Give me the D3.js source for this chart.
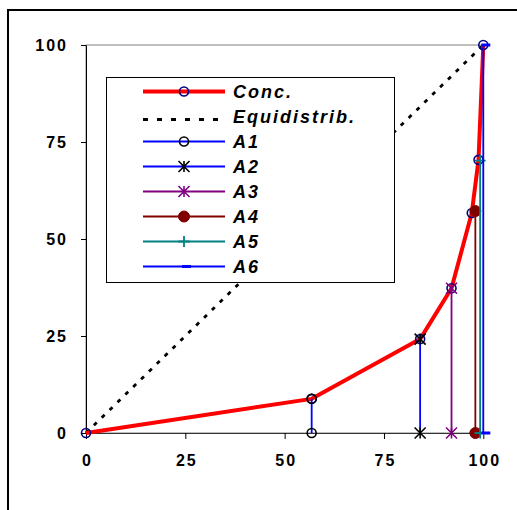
<!DOCTYPE html>
<html>
<head>
<meta charset="utf-8">
<script src="https://cdn.jsdelivr.net/npm/d3@7"></script>
<style>
  html, body { margin: 0; padding: 0; background: #fff; }
  svg { display: block; }
  text { font-family: "Liberation Sans", Arial, sans-serif; }
</style>
</head>
<body>
<svg id="chart" width="517" height="510"></svg>
<script>
// Concentration curve (cumulative shares, %)
const concX = [0, 56.8, 84.1, 92.0, 97.1, 98.8, 100];
const concY = [0, 8.8, 24.2, 37.3, 56.7, 70.4, 100];

// Line of equal distribution
const equiX = [0, 100];
const equiY = [0, 100];

// Individual units: each drawn as a drop line from the axis to its cumulative point
const unitNames = ["A1", "A2", "A3", "A4", "A5", "A6"];
const unitX = [56.8, 84.1, 92.0, 98.0, 99.2, 100];
const unitY = [8.8, 24.2, 37.3, 57.2, 70.2, 100];

const xTicks = [0, 25, 50, 75, 100];
const yTicks = [0, 25, 50, 75, 100];

const unitStyle = {
  A1: { line: "#0000ff", marker: "circle", mcolor: "#000000" },
  A2: { line: "#0000ff", marker: "star", mcolor: "#000000" },
  A3: { line: "#800080", marker: "star", mcolor: "#800080" },
  A4: { line: "#800000", marker: "dot", mcolor: "#800000" },
  A5: { line: "#008080", marker: "plus", mcolor: "#008080" },
  A6: { line: "#0000ff", marker: "dash", mcolor: "#0000ff" }
};

const svg = d3.select("#chart");

// Outer chart frame
svg.append("rect")
  .attr("x", 8).attr("y", 10)
  .attr("width", 530).attr("height", 530)
  .attr("fill", "none").attr("stroke", "#000").attr("stroke-width", 2);

const x = d3.scaleLinear().domain([0, 100]).range([86, 483.3]);
const y = d3.scaleLinear().domain([0, 100]).range([433, 45]);

// Plot area border
svg.append("rect")
  .attr("x", x(0)).attr("y", y(100))
  .attr("width", x(100) - x(0)).attr("height", y(0) - y(100))
  .attr("fill", "none").attr("stroke", "#808080").attr("stroke-width", 1);

// Axes
const yAxis = d3.axisLeft(y).tickValues(yTicks).tickSize(5).tickSizeOuter(0).tickPadding(13);
const xAxis = d3.axisBottom(x).tickValues(xTicks).tickSize(6).tickSizeOuter(0).tickPadding(16);

const gy = svg.append("g").attr("transform", `translate(${x(0)},0)`).call(yAxis);
const gx = svg.append("g").attr("transform", `translate(0,${y(0)})`).call(xAxis);

[gx, gy].forEach(g => {
  g.select(".domain").attr("stroke", "#000").attr("stroke-width", 1);
  g.selectAll(".tick line").attr("stroke", "#000").attr("stroke-width", 1);
  g.selectAll(".tick text")
    .attr("fill", "#000")
    .style("font-size", "16px")
    .style("font-weight", "bold")
    .style("letter-spacing", "2px")
    .style("font-family", '"Liberation Sans", Arial, sans-serif');
});
gx.selectAll(".tick text").attr("dx", 1);
gx.select(".domain").attr("stroke", "#333");

// Marker drawing helper
function marker(g, type, cx, cy, color) {
  if (type === "circle" || type === "ncircle") {
    g.append("circle").attr("cx", cx).attr("cy", cy).attr("r", 4.5)
      .attr("fill", "none").attr("stroke", color).attr("stroke-width", 1.6);
  } else if (type === "dot") {
    g.append("circle").attr("cx", cx).attr("cy", cy).attr("r", 5.5)
      .attr("fill", color).attr("stroke", color).attr("stroke-width", 1);
  } else if (type === "star") {
    const s = 5.5;
    g.append("path")
      .attr("d", `M${cx - s},${cy - s}L${cx + s},${cy + s}M${cx - s},${cy + s}L${cx + s},${cy - s}M${cx},${cy - s}L${cx},${cy + s}`)
      .attr("stroke", color).attr("stroke-width", 1.6).attr("fill", "none");
  } else if (type === "plus") {
    const s = 5.5;
    g.append("path")
      .attr("d", `M${cx - s},${cy}L${cx + s},${cy}M${cx},${cy - s}L${cx},${cy + s}`)
      .attr("stroke", color).attr("stroke-width", 1.8).attr("fill", "none");
  } else if (type === "dash") {
    g.append("path")
      .attr("d", `M${cx - 2},${cy}L${cx + 7},${cy}`)
      .attr("stroke", color).attr("stroke-width", 3).attr("fill", "none");
  }
}

const line = d3.line().x(d => x(d[0])).y(d => y(d[1]));
const plot = svg.append("g");

// Equidistribution diagonal
plot.append("path")
  .datum(equiX.map((v, i) => [v, equiY[i]]))
  .attr("d", line)
  .attr("fill", "none").attr("stroke", "#000")
  .attr("stroke-width", 2.8).attr("stroke-dasharray", "4,7");

// Concentration curve
plot.append("path")
  .datum(concX.map((v, i) => [v, concY[i]]))
  .attr("d", line)
  .attr("fill", "none").attr("stroke", "#ff0000")
  .attr("stroke-width", 4).attr("stroke-linejoin", "round");
concX.forEach((v, i) => marker(plot, "ncircle", x(v), y(concY[i]), "#000080"));

// Drop lines for each unit
unitNames.forEach((name, i) => {
  const st = unitStyle[name];
  const pts = [[unitX[i], 0], [unitX[i], unitY[i]]];
  plot.append("path").datum(pts).attr("d", line)
    .attr("fill", "none").attr("stroke", st.line).attr("stroke-width", 1.8);
  pts.forEach(p => marker(plot, st.marker, x(p[0]), y(p[1]), st.mcolor));
});

// Legend
const leg = svg.append("g");
leg.append("rect")
  .attr("x", 106.5).attr("y", 77.5).attr("width", 288).attr("height", 205)
  .attr("fill", "#fff").attr("stroke", "#000").attr("stroke-width", 1);

const legendItems = [
  { label: "Conc.", line: "#ff0000", width: 4, dash: null, marker: "ncircle", mcolor: "#000080" },
  { label: "Equidistrib.", line: "#000", width: 2.8, dash: "5,9", marker: null, mcolor: null }
].concat(unitNames.map(n => ({
  label: n, line: unitStyle[n].line, width: 1.8, dash: null,
  marker: unitStyle[n].marker, mcolor: unitStyle[n].mcolor
})));

legendItems.forEach((it, i) => {
  const cy = 91.5 + i * 25;
  leg.append("line")
    .attr("x1", 143).attr("x2", 225).attr("y1", cy + (it.dash ? 3 : 0)).attr("y2", cy + (it.dash ? 3 : 0))
    .attr("stroke", it.line).attr("stroke-width", it.width)
    .attr("stroke-dasharray", it.dash);
  if (it.marker) marker(leg, it.marker, 184, cy, it.mcolor);
  leg.append("text")
    .attr("x", 233).attr("y", cy + 6.5)
    .style("font-size", "18px")
    .style("font-weight", "bold")
    .style("font-style", "italic")
    .style("letter-spacing", "2px")
    .attr("fill", "#000")
    .text(it.label);
});
</script>
</body>
</html>
